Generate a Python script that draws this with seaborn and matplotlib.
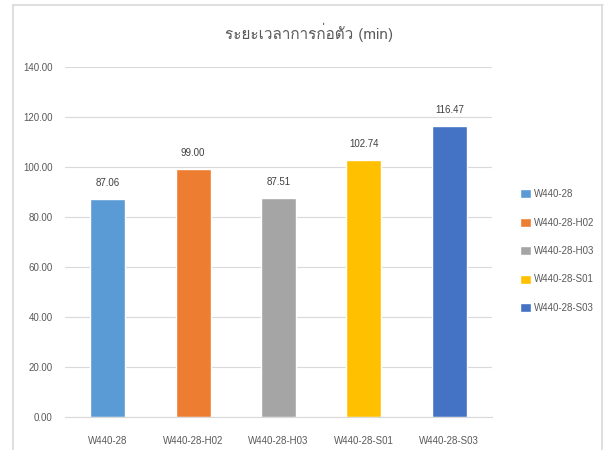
import matplotlib
matplotlib.use("Agg")
import matplotlib.pyplot as plt
import seaborn as sns
import pandas as pd
from matplotlib.lines import Line2D

categories = ["W440-28", "W440-28-H02", "W440-28-H03", "W440-28-S01", "W440-28-S03"]
values = [87.06, 99.00, 87.51, 102.74, 116.47]
colors = ["#5B9BD5", "#ED7D31", "#A5A5A5", "#FFC000", "#4472C4"]
title = "ระยะเวลาการก่อตัว (min)"
yticks = [0, 20, 40, 60, 80, 100, 120, 140]

sns.set_theme(style="white")
plt.rcParams['font.family'] = ['Liberation Sans', 'DejaVu Sans']
txt = "#595959"

df = pd.DataFrame({"cat": categories, "val": values})
fig = plt.figure(figsize=(6.04, 4.5), dpi=100)
ax = fig.add_axes([65/604, 1-416.7/450, (492-65)/604, (416.7-66.7)/450])
sns.barplot(data=df, x="cat", y="val", hue="cat", palette=colors, width=0.41,
            dodge=False, legend=True, ax=ax, saturation=1)
ax.set_ylim(0, 140)
ax.set_yticks(yticks)
ax.set_yticklabels([f"{v:.2f}" for v in yticks])
ax.set_xlabel("")
ax.set_ylabel("")
ax.yaxis.grid(True, color="#D9D9D9", linewidth=0.8)
ax.set_axisbelow(True)
for s in ["top", "right", "left"]:
    ax.spines[s].set_visible(False)
ax.spines["bottom"].set_color("#D9D9D9")
ax.spines["bottom"].set_linewidth(0.8)
ax.tick_params(axis="x", length=0, pad=14, labelsize=7, labelcolor=txt)
ax.tick_params(axis="y", length=0, pad=9, labelsize=7, labelcolor=txt)

for i, v in enumerate(values):
    ax.annotate(f"{v:.2f}", (i, v), xytext=(0, 11.5), textcoords="offset points",
                ha="center", va="center", fontsize=7, color="#404040")

handles, labels = ax.get_legend_handles_labels()
ax.legend(handles, labels, loc="center left", bbox_to_anchor=(515/604, 1-251/450),
          bbox_transform=fig.transFigure, frameon=False, fontsize=7,
          handlelength=1.1, handleheight=1.1, handletextpad=0.35,
          labelspacing=1.9, labelcolor=txt, borderpad=0)

fig.text(309/604, 1-32/450, title, ha="center", va="center", fontsize=11,
         color=txt, family=['Loma', 'DejaVu Sans'])

border = "#D9D9D9"
fig.add_artist(Line2D([13/604, 13/604], [0, 1-5/450], color=border, lw=1.2, transform=fig.transFigure))
fig.add_artist(Line2D([13/604, 603/604], [1-5/450, 1-5/450], color=border, lw=1.2, transform=fig.transFigure))
fig.add_artist(Line2D([602/604, 602/604], [0, 1-5/450], color=border, lw=1.2, transform=fig.transFigure))

fig.savefig("out.png", dpi=100)
